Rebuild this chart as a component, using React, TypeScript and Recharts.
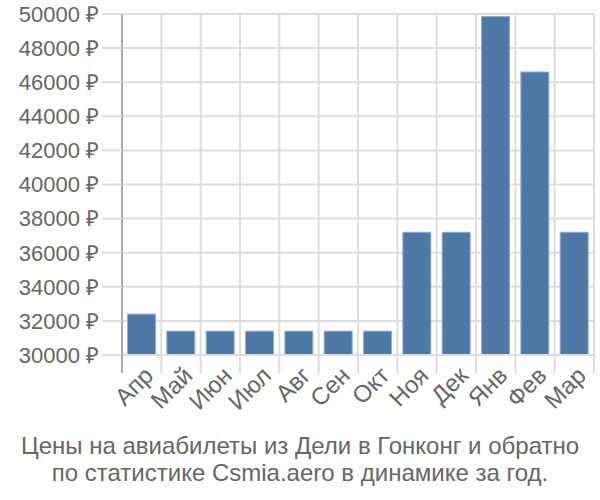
import React from "react"
import { BarChart, Bar, XAxis, YAxis, CartesianGrid } from "recharts"

// Months (Apr → Mar) and average price in rubles
const months = ["Апр", "Май", "Июн", "Июл", "Авг", "Сен", "Окт", "Ноя", "Дек", "Янв", "Фев", "Мар"]
const prices = [32400, 31400, 31400, 31400, 31400, 31400, 31400, 37200, 37200, 49850, 46600, 37200]
const yTicks = [30000, 32000, 34000, 36000, 38000, 40000, 42000, 44000, 46000, 48000, 50000]

const titleLines = [
  "Цены на авиабилеты из Дели в Гонконг и обратно",
  "по статистике Csmia.aero в динамике за год.",
]

const FONT = "'Liberation Sans', Arial, sans-serif"
const TEXT = "#666"
const GRID = "#ddd"
const AXIS = "#aaa"
const TICK_LEN = 18

const data = months.map((m, i) => ({ month: m, price: prices[i] }))

// category tick: boundary tick lines between bands plus a rotated label
function MonthTick(props: any) {
  const { x, y, payload, index, visibleTicksCount } = props
  const half = payload.offset || 0
  const top = y - TICK_LEN
  const tx = x + 1
  const ty = top + 10
  return (
    <g>
      <line
        x1={x - half}
        x2={x - half}
        y1={top}
        y2={y}
        stroke={index === 0 ? AXIS : GRID}
        strokeWidth={2}
      />
      {index === visibleTicksCount - 1 && (
        <line x1={x + half} x2={x + half} y1={top} y2={y} stroke={GRID} strokeWidth={2} />
      )}
      <text
        x={tx}
        y={ty}
        dy="0.71em"
        textAnchor="end"
        transform={`rotate(-45, ${tx}, ${ty})`}
        fill={TEXT}
        fontSize={24}
        fontFamily={FONT}
      >
        {payload.value}
      </text>
    </g>
  )
}

export default function App() {
  return (
    <div style={{ position: "relative", width: 600, height: 500, fontFamily: FONT }}>
      <style>{`body{margin:0}`}</style>
      <BarChart
        width={600}
        height={500}
        data={data}
        margin={{ top: 14, right: 6, bottom: 85, left: 0 }}
        barCategoryGap="14%"
      >
        <CartesianGrid
          stroke={GRID}
          strokeWidth={2}
          verticalCoordinatesGenerator={({ offset }: any) =>
            months.map((_, i) => offset.left + (i * offset.width) / months.length).concat([offset.left + offset.width])
          }
        />
        <XAxis
          dataKey="month"
          tickLine={false}
          tickSize={TICK_LEN}
          tickMargin={0}
          axisLine={{ stroke: GRID, strokeWidth: 2 }}
          interval={0}
          height={60}
          tick={<MonthTick />}
        />
        <YAxis
          domain={[30000, 50000]}
          ticks={yTicks}
          interval={0}
          allowDataOverflow
          width={122}
          tickSize={20}
          tickMargin={3}
          tickFormatter={(v: number) => `${v} ₽`}
          tickLine={{ stroke: GRID, strokeWidth: 2 }}
          axisLine={{ stroke: AXIS, strokeWidth: 2 }}
          tick={{ fill: TEXT, fontSize: 22, fontFamily: FONT }}
        />
        <Bar
          dataKey="price"
          fill="#4e79a7"
          stroke="#8fb0d0"
          strokeWidth={1}
          isAnimationActive={false}
        />
      </BarChart>
      <div
        style={{
          position: "absolute",
          left: 0,
          top: 432,
          width: 600,
          textAlign: "center",
          fontSize: 24,
          lineHeight: "27px",
          color: TEXT,
        }}
      >
        {titleLines.map((l) => (
          <div key={l}>{l}</div>
        ))}
      </div>
    </div>
  )
}
